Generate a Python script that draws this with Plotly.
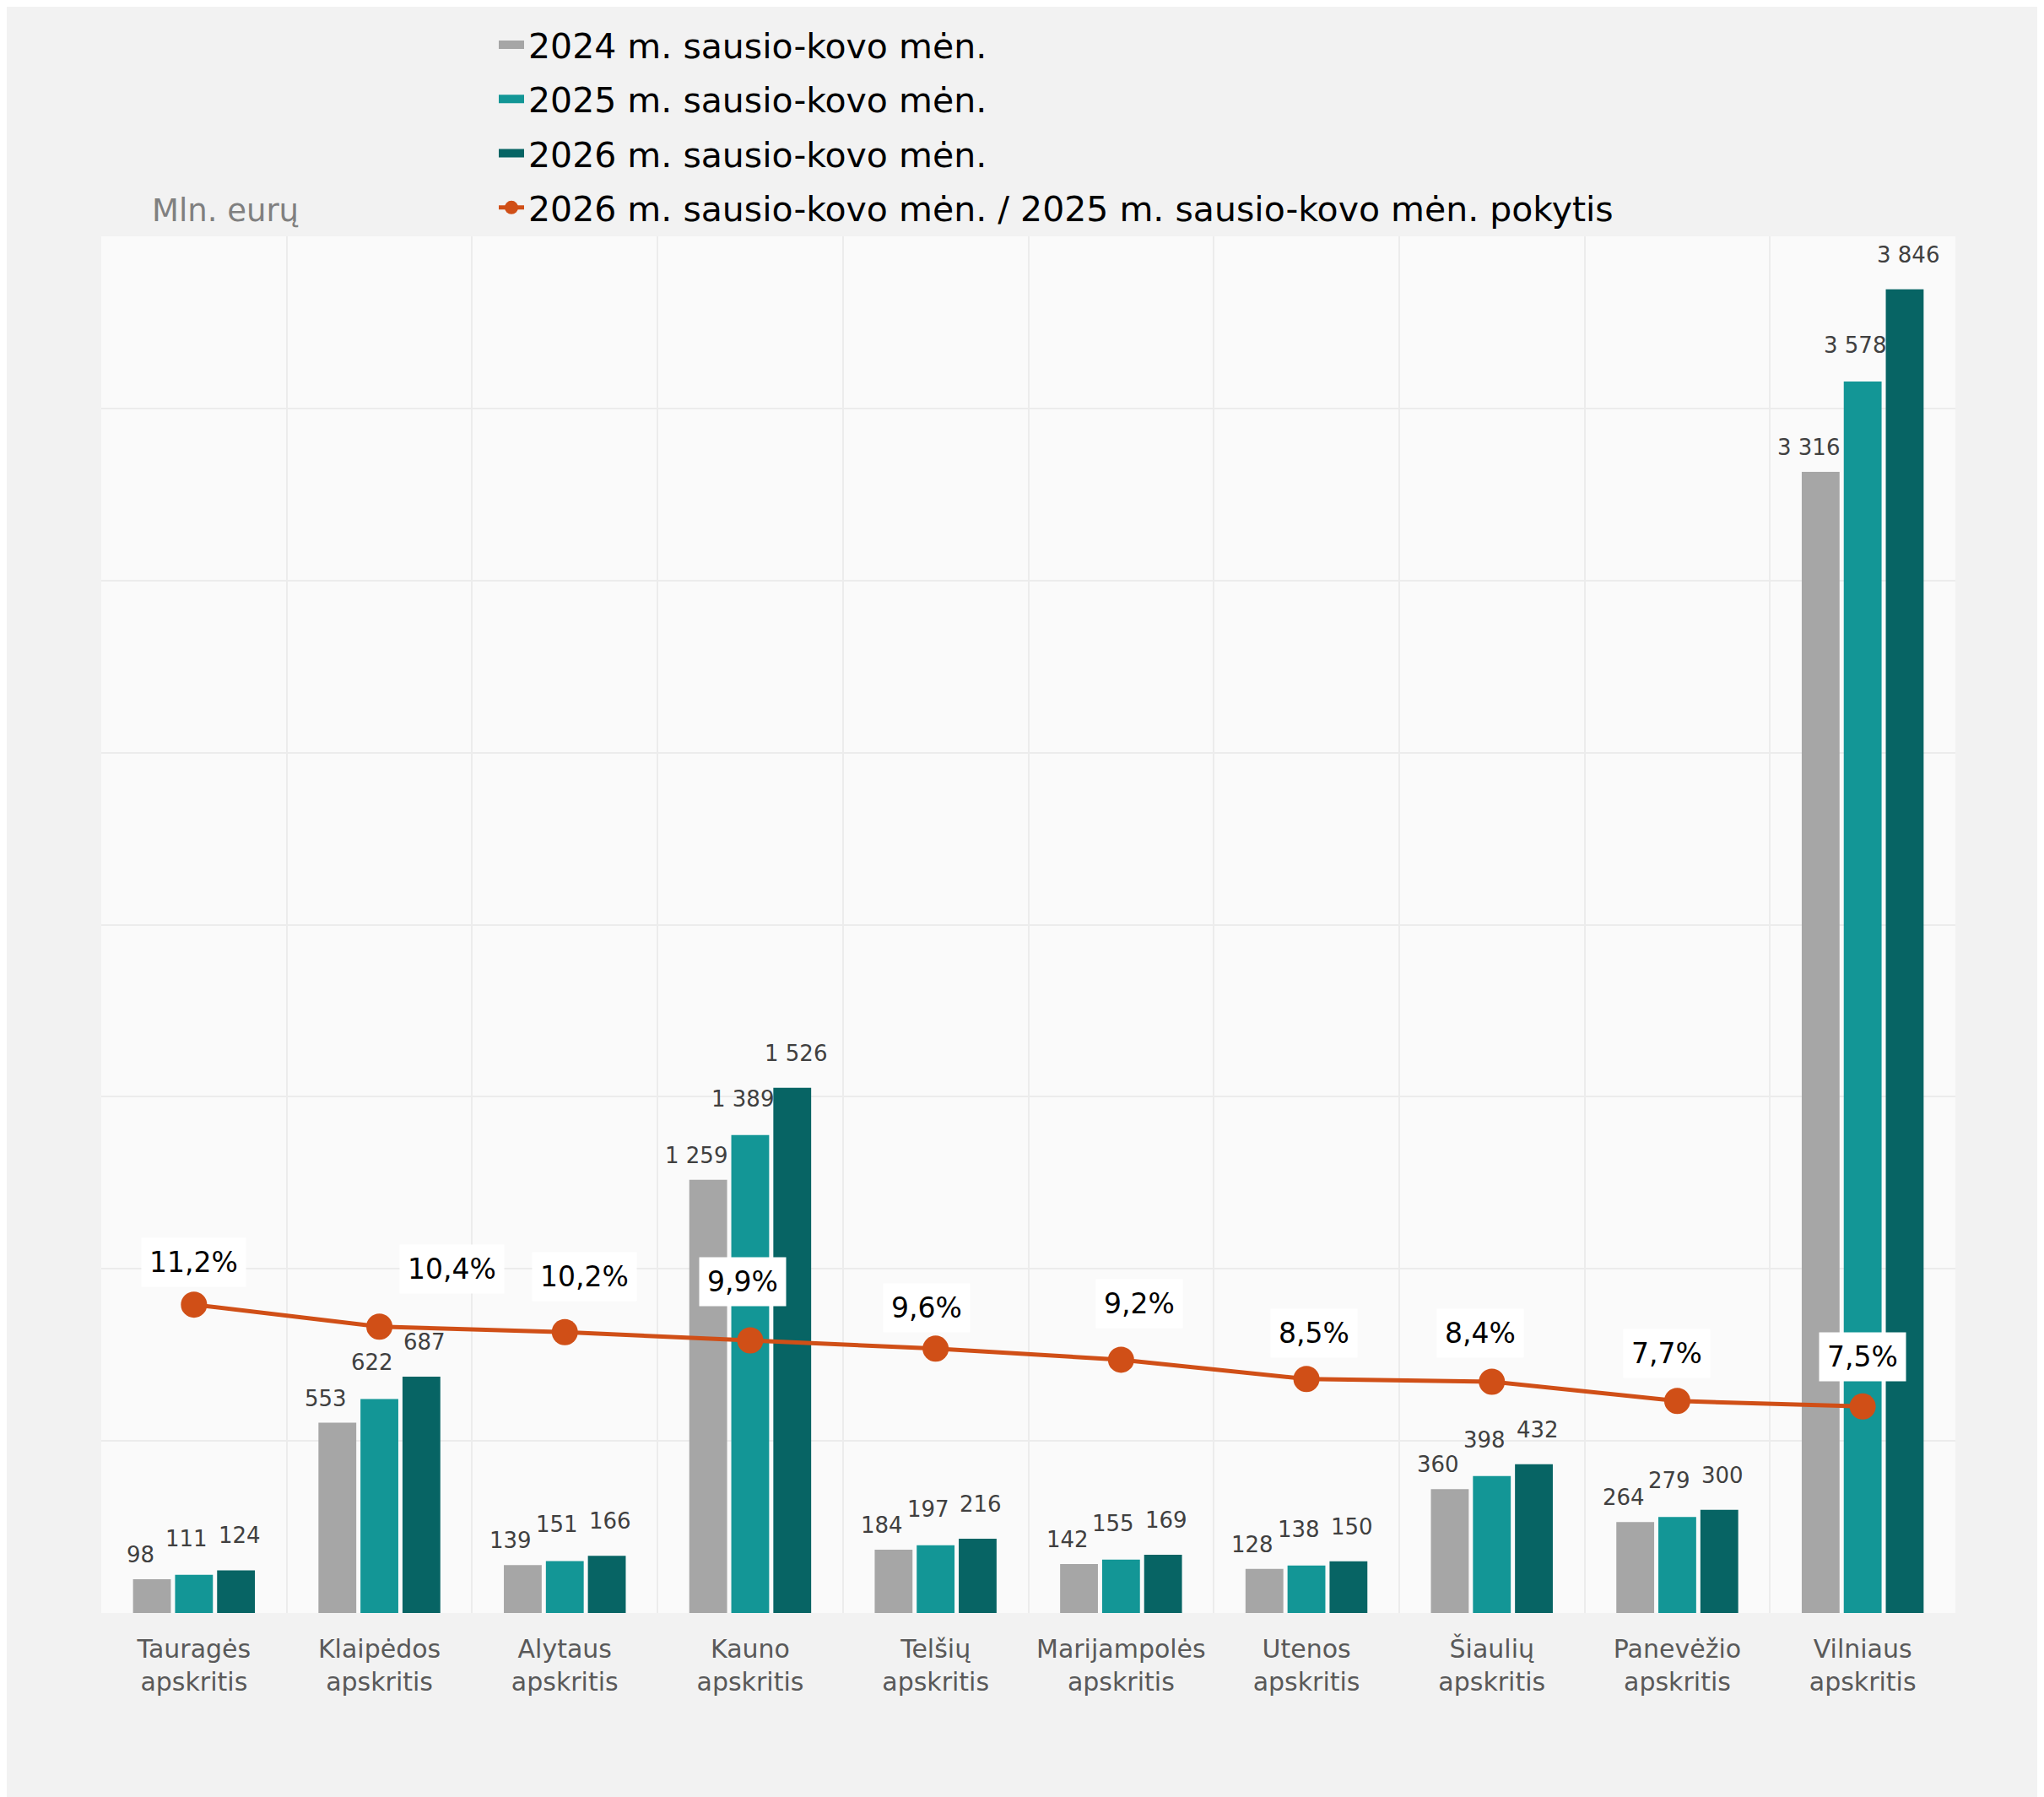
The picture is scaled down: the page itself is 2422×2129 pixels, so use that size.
import plotly.graph_objects as go

# ---------------- data ----------------
categories = ["Tauragės<br>apskritis", "Klaipėdos<br>apskritis", "Alytaus<br>apskritis",
              "Kauno<br>apskritis", "Telšių<br>apskritis", "Marijampolės<br>apskritis",
              "Utenos<br>apskritis", "Šiaulių<br>apskritis", "Panevėžio<br>apskritis",
              "Vilniaus<br>apskritis"]
v2024 = [98, 553, 139, 1259, 184, 142, 128, 360, 264, 3316]
v2025 = [111, 622, 151, 1389, 197, 155, 138, 398, 279, 3578]
v2026 = [124, 687, 166, 1526, 216, 169, 150, 432, 300, 3846]
change_pct = [11.2, 10.4, 10.2, 9.9, 9.6, 9.2, 8.5, 8.4, 7.7, 7.5]

series_names = ["2024 m. sausio-kovo mėn.", "2025 m. sausio-kovo mėn.", "2026 m. sausio-kovo mėn."]
line_name = "2026 m. sausio-kovo mėn. / 2025 m. sausio-kovo mėn. pokytis"
unit_label = "Mln. eurų"

# ---------------- style ----------------
FONT = "DejaVu Sans"
bar_colors = ["#a6a6a6", "#139696", "#076464"]
line_color = "#d04f17"
W, H = 2422, 2129
ML, MT = 112, 267
PW, PH = 2197, 1636
MR = W - ML - PW
MB = H - MT - PH
BARGAP = 0.32
slot = (1 - BARGAP) / 3
label_dx = [-14, -9, 4]      # per-series nudges of value labels (px)
label_dy = [12, 26, 24]
pct_dx = [0, 86, 23, -9, -11, 22, 9, -14, -12, 0]  # label nudges (px)
pct_dy = [50, 68, 66, 70, 48, 66, 54, 57, 56, 59]

def fmt_num(v):
    return f"{v:,}".replace(",", " ")

def fmt_pct(p):
    return f"{p:.1f}".replace(".", ",") + "%"

fig = go.Figure()
for name, vals, col in zip(series_names, [v2024, v2025, v2026], bar_colors):
    fig.add_trace(go.Bar(x=categories, y=vals, name=name, marker_color=col,
                         marker_line_width=0, showlegend=False))

# legend swatches for the bar series
for k, (name, col) in enumerate(zip(series_names, bar_colors)):
    fig.add_trace(go.Scatter(x=[None], y=[None], mode="lines", name=name,
                             legendgroup=f"g{k}",
                             line=dict(color=col, width=25), showlegend=True))

fig.add_trace(go.Scatter(x=categories, y=change_pct, name=line_name, yaxis="y2",
                         mode="lines+markers", legendgroup="g3",
                         line=dict(color=line_color, width=5),
                         marker=dict(color=line_color, size=31)))

annotations = []
for s, vals in enumerate([v2024, v2025, v2026]):
    for i, v in enumerate(vals):
        annotations.append(dict(x=i + (s - 1) * slot, y=v, xref="x", yref="y",
                                text=fmt_num(v), showarrow=False, yanchor="bottom",
                                xshift=label_dx[s], yshift=label_dy[s],
                                font=dict(family=FONT, size=26, color="#404040")))
for i, p in enumerate(change_pct):
    annotations.append(dict(x=i, y=p, xref="x", yref="y2", text=fmt_pct(p),
                            showarrow=False, xshift=pct_dx[i], yshift=pct_dy[i],
                            bgcolor="white", borderpad=9,
                            font=dict(family=FONT, size=33, color="black")))
annotations.append(dict(x=(170 - ML) / PW, y=(MT + PH - 236) / PH,
                        xref="paper", yref="paper", text=unit_label, showarrow=False,
                        xanchor="left", yanchor="middle",
                        font=dict(family=FONT, size=37, color="#808080")))

fig.update_layout(
    width=W, height=H,
    margin=dict(l=ML, r=MR, t=MT, b=MB),
    paper_bgcolor="#f2f2f2",
    plot_bgcolor="#fafafa",
    barmode="group", bargap=BARGAP, bargroupgap=0.1,
    font=dict(family=FONT, color="#595959"),
    legend=dict(x=(578 - ML) / PW, y=(MT + PH - 6) / PH, xanchor="left", yanchor="top",
                bgcolor="rgba(0,0,0,0)", font=dict(family=FONT, size=41, color="black"),
                traceorder="grouped", tracegroupgap=8),
    xaxis=dict(type="category", range=[-0.5, 9.5], tickson="boundaries", showgrid=True,
               gridcolor="#ececec", gridwidth=2, ticks="", showline=False, zeroline=False,
               ticklabelstandoff=22,
               tickfont=dict(family=FONT, size=30, color="#595959")),
    yaxis=dict(range=[0, 4000], dtick=500, showgrid=True, gridcolor="#ececec", gridwidth=2,
               showticklabels=False, zeroline=False, ticks=""),
    yaxis2=dict(range=[0, 50], overlaying="y", side="right", showgrid=False,
                showticklabels=False, zeroline=False, ticks=""),
    annotations=annotations,
)

fig.write_html("out.html")
